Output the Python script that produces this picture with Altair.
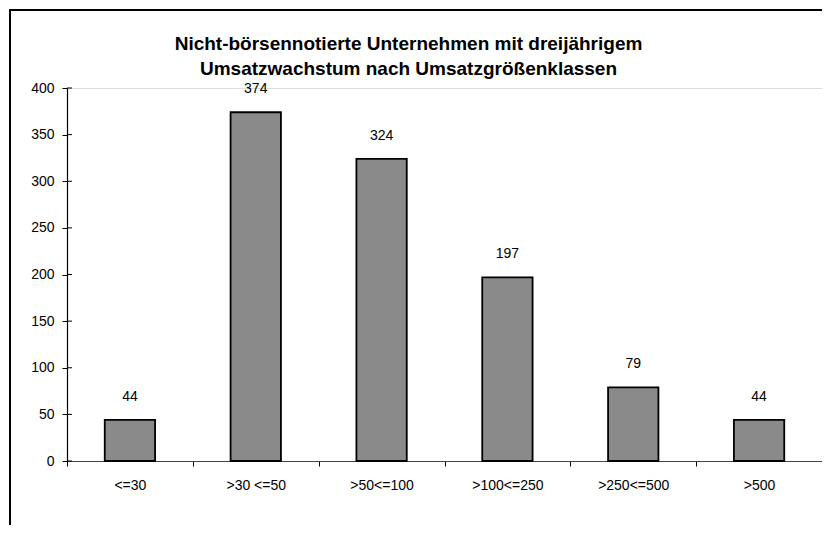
import altair as alt
import pandas as pd

categories = ["<=30", ">30 <=50", ">50<=100", ">100<=250", ">250<=500", ">500"]
values = [44, 374, 324, 197, 79, 44]
y_ticks = [0, 50, 100, 150, 200, 250, 300, 350, 400]
title_lines = ["Nicht-börsennotierte Unternehmen mit dreijährigem",
               "Umsatzwachstum nach Umsatzgrößenklassen"]

df = pd.DataFrame({"cat": categories, "val": values})
ticks_df = pd.DataFrame({"t": y_ticks})

FONT = "Liberation Sans"

x_enc = alt.X("cat:N", sort=categories, title=None,
              scale=alt.Scale(paddingInner=0, paddingOuter=0),
              axis=alt.Axis(labelAngle=0, labelFontSize=14, labelFont=FONT,
                            labelColor="black", tickBand="extent", tickSize=5,
                            tickColor="black", domainColor="#444", labelPadding=12,
                            domainWidth=1.2))
y_enc = alt.Y("val:Q", title=None,
              scale=alt.Scale(domain=[0, 400], nice=False),
              axis=alt.Axis(values=y_ticks, labelFontSize=14, labelFont=FONT,
                            labelColor="black", tickSize=5, tickColor="black",
                            domainColor="black", labelPadding=8, grid=False,
                            domainWidth=1.2))

frame = alt.Chart(df).mark_rect(fill=None, stroke="black", strokeWidth=2).encode(
    x=alt.value(-57), x2=alt.value(800), y=alt.value(-78), y2=alt.value(500)
)

bars = alt.Chart(df).mark_bar(color="#8a8a8a", stroke="black", strokeWidth=1.8,
                              width=alt.RelativeBandSize(0.4)).encode(
    x=x_enc, y=y_enc
)

labels = alt.Chart(df).mark_text(fontSize=14, font=FONT, color="black",
                                 baseline="middle", dy=-23).encode(
    x=alt.X("cat:N", sort=categories),
    y=alt.Y("val:Q"),
    text=alt.Text("val:Q"),
)

inner_ticks = alt.Chart(ticks_df).mark_rule(color="black", strokeWidth=1).encode(
    y=alt.Y("t:Q"), x=alt.value(0), x2=alt.value(5)
)

chart = alt.layer(frame, bars, labels, inner_ticks).properties(
    width=755, height=373,
    title=alt.TitleParams(text=title_lines, fontSize=19, font=FONT, fontWeight="bold",
                          color="black", anchor="middle", frame="group", dx=-36,
                          dy=78, offset=8, lineHeight=25),
    autosize=alt.AutoSizeParams(type="none"),
    padding={"left": 59, "top": 80, "right": 0, "bottom": 64},
).configure_view(stroke=None).configure(background="white")

chart.save("out.html", embed_options={"renderer": "svg", "actions": False})
